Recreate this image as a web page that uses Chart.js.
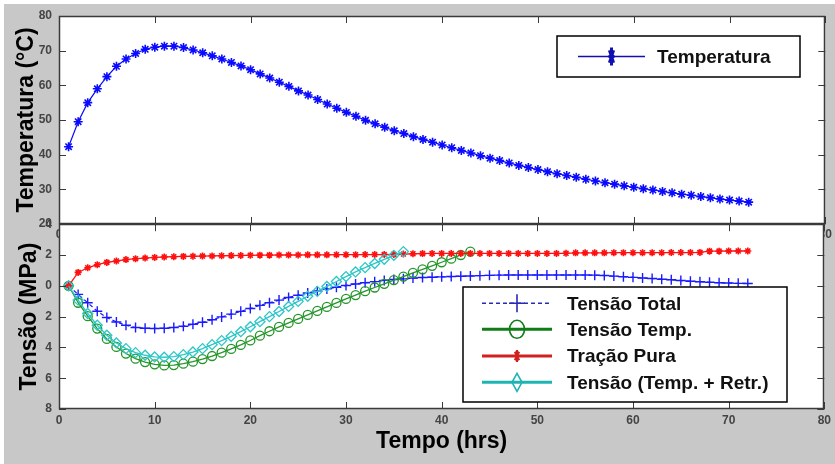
<!DOCTYPE html>
<html>
<head>
<meta charset="utf-8">
<script src="https://cdn.jsdelivr.net/npm/chart.js@4.4.1/dist/chart.umd.min.js"></script>
<style>
body { margin: 0; background: #fff; width: 835px; height: 464px; overflow: hidden; position: relative; }
#fig { position: absolute; left: 4px; top: 4px; width: 831px; height: 460px; background: #c8c8c8; }
canvas { position: absolute; left: 0; }
#cTemp { top: 0; }
#cTens { top: 210px; }
</style>
</head>
<body>
<div id="fig"></div>
<canvas id="cTemp" width="835" height="250"></canvas>
<canvas id="cTens" width="835" height="254"></canvas>
<script>
// hours since casting
const hours = [1,2,3,4,5,6,7,8,9,10,11,12,13,14,15,16,17,18,19,20,21,22,23,24,25,26,27,28,29,30,
	31,32,33,34,35,36,37,38,39,40,41,42,43,44,45,46,47,48,49,50,51,52,53,54,55,56,57,58,59,60,
	61,62,63,64,65,66,67,68,69,70,71,72];

// temperature (C)
const temperatura = [42.3,49.5,55.0,59.0,62.5,65.5,67.6,69.2,70.4,71.0,
	71.3,71.3,70.9,70.2,69.4,68.5,67.6,66.6,65.6,64.5,
	63.3,62.1,60.9,59.7,58.4,57.2,55.9,54.6,53.4,52.2,
	51.1,49.9,48.9,47.9,46.9,46.1,45.2,44.4,43.6,42.8,
	42.0,41.2,40.5,39.7,39.0,38.3,37.6,36.9,36.3,35.7,
	35.1,34.5,34.0,33.5,32.9,32.4,31.9,31.5,31.0,30.6,
	30.2,29.8,29.4,29.0,28.6,28.3,27.9,27.6,27.2,26.9,26.6,26.3];

// stresses (MPa)
const tensaoTotal = [0,-0.56,-1.1,-1.65,-2.06,-2.35,-2.56,-2.71,-2.76,-2.77,
	-2.76,-2.71,-2.63,-2.5,-2.37,-2.2,-2.02,-1.84,-1.66,-1.47,
	-1.27,-1.1,-0.93,-0.76,-0.61,-0.46,-0.33,-0.2,-0.09,0.02,
	0.12,0.2,0.27,0.35,0.41,0.45,0.5,0.54,0.56,0.58,
	0.6,0.62,0.64,0.66,0.68,0.69,0.7,0.7,0.7,0.7,
	0.7,0.7,0.7,0.7,0.7,0.69,0.67,0.63,0.59,0.55,
	0.51,0.47,0.43,0.39,0.34,0.3,0.26,0.23,0.2,0.18,0.16,0.15];

const tensaoTemp = [0,-1.1,-1.97,-2.78,-3.45,-3.97,-4.4,-4.73,-4.95,-5.1,
	-5.17,-5.15,-5.06,-4.93,-4.76,-4.56,-4.34,-4.1,-3.84,-3.55,
	-3.24,-2.95,-2.67,-2.41,-2.15,-1.89,-1.63,-1.37,-1.11,-0.85,
	-0.6,-0.35,-0.11,0.13,0.37,0.6,0.84,1.07,1.3,1.53,
	1.76,2.0,2.22];

const tracaoPura = [0,0.87,1.17,1.37,1.52,1.61,1.7,1.76,1.8,1.84,
	1.87,1.89,1.91,1.92,1.93,1.94,1.95,1.96,1.97,1.98,
	1.99,1.99,2.0,2.0,2.0,2.01,2.01,2.01,2.02,2.02,
	2.02,2.03,2.03,2.03,2.04,2.06,2.08,2.09,2.1,2.1,
	2.1,2.1,2.1,2.1,2.1,2.1,2.1,2.1,2.1,2.1,
	2.1,2.1,2.11,2.14,2.14,2.14,2.14,2.15,2.15,2.15,
	2.15,2.15,2.15,2.16,2.16,2.16,2.17,2.25,2.25,2.26,2.26,2.26];

const tensaoRetr = [0,-0.93,-1.8,-2.56,-3.21,-3.71,-4.08,-4.34,-4.51,-4.62,
	-4.64,-4.6,-4.47,-4.3,-4.08,-3.82,-3.56,-3.28,-2.98,-2.66,
	-2.33,-2.0,-1.67,-1.34,-1.01,-0.68,-0.36,-0.04,0.28,0.6,
	0.9,1.18,1.45,1.72,1.98,2.22];

const FONT = '"Liberation Sans", Arial, sans-serif';
Chart.defaults.font.family = FONT;
Chart.defaults.color = '#444';

// white plotting box behind the curves
const whiteBox = {
	id: 'whiteBox',
	beforeDraw(chart) {
		const a = chart.chartArea;
		const ctx = chart.ctx;
		ctx.save();
		ctx.fillStyle = '#fff';
		ctx.fillRect(a.left, a.top, a.right - a.left, a.bottom - a.top);
		ctx.restore();
	}
};

// axes frame with inward ticks on all four sides
const boxTicks = {
	id: 'boxTicks',
	afterDatasetsDraw(chart) {
		const {ctx, chartArea: a, scales} = chart;
		const L = 7;
		ctx.save();
		ctx.strokeStyle = '#3a3a3a';
		ctx.lineWidth = 1;
		ctx.beginPath();
		scales.x.ticks.forEach(t => {
			const px = Math.round(scales.x.getPixelForValue(t.value)) + 0.5;
			ctx.moveTo(px, a.bottom); ctx.lineTo(px, a.bottom - L);
			ctx.moveTo(px, a.top); ctx.lineTo(px, a.top + L);
		});
		scales.y.ticks.forEach(t => {
			const py = Math.round(scales.y.getPixelForValue(t.value)) + 0.5;
			ctx.moveTo(a.left, py); ctx.lineTo(a.left + L, py);
			ctx.moveTo(a.right, py); ctx.lineTo(a.right - L, py);
		});
		ctx.stroke();
		ctx.lineWidth = 1.5;
		ctx.strokeRect(Math.round(a.left) + 0.5, Math.round(a.top) + 0.5,
			Math.round(a.right - a.left) - 1, Math.round(a.bottom - a.top) - 1);
		ctx.restore();
	}
};

function drawMark(ctx, style, cx, cy, rx, ry) {
	ctx.beginPath();
	if (style === 'circle') {
		ctx.ellipse(cx, cy, rx, ry, 0, 0, Math.PI * 2);
	} else if (style === 'rectRot') {
		ctx.moveTo(cx, cy - ry); ctx.lineTo(cx + rx, cy);
		ctx.lineTo(cx, cy + ry); ctx.lineTo(cx - rx, cy); ctx.closePath();
	} else if (style === 'cross') {
		ctx.moveTo(cx - rx, cy); ctx.lineTo(cx + rx, cy);
		ctx.moveTo(cx, cy - ry); ctx.lineTo(cx, cy + ry);
	} else {
		ctx.moveTo(cx - rx, cy); ctx.lineTo(cx + rx, cy);
		ctx.moveTo(cx, cy - ry); ctx.lineTo(cx, cy + ry);
		ctx.moveTo(cx - rx * 0.7, cy - ry * 0.7); ctx.lineTo(cx + rx * 0.7, cy + ry * 0.7);
		ctx.moveTo(cx - rx * 0.7, cy + ry * 0.7); ctx.lineTo(cx + rx * 0.7, cy - ry * 0.7);
	}
	ctx.stroke();
}

// boxed legend with line + marker samples
const boxLegend = {
	id: 'boxLegend',
	afterDraw(chart, args, o) {
		const ctx = chart.ctx;
		ctx.save();
		ctx.fillStyle = '#fff';
		ctx.fillRect(o.left, o.top, o.right - o.left, o.bottom - o.top);
		ctx.strokeStyle = '#000';
		ctx.lineWidth = 1.5;
		ctx.strokeRect(o.left, o.top, o.right - o.left, o.bottom - o.top);
		chart.data.datasets.forEach((ds, i) => {
			const y = o.rows[i];
			ctx.strokeStyle = ds.legendColor || ds.borderColor;
			ctx.lineWidth = ds.legendLine;
			ctx.setLineDash(ds.borderDash || []);
			ctx.beginPath();
			ctx.moveTo(o.x0, y); ctx.lineTo(o.x1, y);
			ctx.stroke();
			ctx.setLineDash([]);
			ctx.lineWidth = ds.legendMarkWidth || 1.5;
			drawMark(ctx, ds.pointStyle, (o.x0 + o.x1) / 2, y, ds.legendMark[0], ds.legendMark[1]);
			ctx.fillStyle = '#111';
			ctx.font = 'bold 19px ' + FONT;
			ctx.textBaseline = 'middle';
			ctx.textAlign = 'left';
			ctx.fillText(ds.label, o.textX, y + 1);
		});
		ctx.restore();
	}
};

const tickFont = {size: 12, weight: 'bold'};
const titleFont = {size: 23, weight: 'bold'};

new Chart(document.getElementById('cTemp'), {
	type: 'line',
	data: {
		labels: hours,
		datasets: [{
			label: 'Temperatura',
			data: temperatura,
			borderColor: '#0a0aff',
			backgroundColor: '#0a0aff',
			borderWidth: 1.2,
			pointStyle: 'star',
			pointRadius: 4.5,
			pointBorderWidth: 1.6,
			tension: 0,
			legendColor: '#1010b0',
			legendLine: 1.6,
			legendMark: [3, 9],
			legendMarkWidth: 3
		}]
	},
	options: {
		responsive: false,
		animation: false,
		devicePixelRatio: 1,
		layout: {padding: {left: 0, right: 8, top: 16, bottom: 0}},
		plugins: {
			legend: {display: false},
			tooltip: {enabled: false},
			boxLegend: {left: 557, top: 36, right: 800, bottom: 77, rows: [56.5], x0: 578, x1: 645, textX: 657}
		},
		scales: {
			x: {
				type: 'linear', min: 0, max: 80,
				grid: {display: false, drawTicks: false},
				border: {display: false},
				ticks: {stepSize: 10, padding: 3, font: tickFont, color: '#444'},
				afterFit(s) { s.height = 26; }
			},
			y: {
				min: 20, max: 80,
				grid: {display: false, drawTicks: false},
				border: {display: false},
				ticks: {stepSize: 10, padding: 7, font: tickFont, color: '#444'},
				title: {display: true, text: 'Temperatura (°C)', font: titleFont, color: '#000', padding: {top: 13, bottom: 0}},
				afterFit(s) { s.width = 59; }
			}
		}
	},
	plugins: [whiteBox, boxTicks, boxLegend]
});

new Chart(document.getElementById('cTens'), {
	type: 'line',
	data: {
		labels: hours,
		datasets: [{
			label: 'Tensão Total',
			data: tensaoTotal,
			borderColor: '#1a1aff',
			backgroundColor: '#1a1aff',
			borderWidth: 1.2,
			borderDash: [4, 3],
			pointStyle: 'cross',
			pointRadius: 5,
			pointBorderWidth: 1.4,
			order: 3,
			legendColor: '#2a2ab8',
			legendLine: 1.5,
			legendMark: [8, 9],
			legendMarkWidth: 1.6
		}, {
			label: 'Tensão Temp.',
			data: tensaoTemp,
			borderColor: '#24952a',
			backgroundColor: 'rgba(0,0,0,0)',
			borderWidth: 1.3,
			pointStyle: 'circle',
			pointRadius: 4.5,
			pointBorderWidth: 1.3,
			order: 2,
			legendColor: '#0f7d16',
			legendLine: 3,
			legendMark: [7.5, 9],
			legendMarkWidth: 1.6
		}, {
			label: 'Tração Pura',
			data: tracaoPura,
			borderColor: '#ff1010',
			backgroundColor: '#ff1010',
			borderWidth: 1.3,
			pointStyle: 'star',
			pointRadius: 3.5,
			pointBorderWidth: 1.6,
			order: 1,
			legendColor: '#d02020',
			legendLine: 3,
			legendMark: [3, 6],
			legendMarkWidth: 2.2
		}, {
			label: 'Tensão (Temp. + Retr.)',
			data: tensaoRetr,
			borderColor: '#2ec6c6',
			backgroundColor: 'rgba(0,0,0,0)',
			borderWidth: 1.3,
			pointStyle: 'rectRot',
			pointRadius: 5,
			pointBorderWidth: 1.3,
			order: 0,
			legendColor: '#1fb4b4',
			legendLine: 3,
			legendMark: [5, 9],
			legendMarkWidth: 1.6
		}]
	},
	options: {
		responsive: false,
		animation: false,
		devicePixelRatio: 1,
		layout: {padding: {left: 0, right: 8, top: 14, bottom: 0}},
		plugins: {
			legend: {display: false},
			tooltip: {enabled: false},
			boxLegend: {left: 463, top: 77, right: 787, bottom: 192, rows: [93.3, 119.3, 146, 172.3], x0: 482, x1: 552, textX: 567}
		},
		scales: {
			x: {
				type: 'linear', min: 0, max: 80,
				grid: {display: false, drawTicks: false},
				border: {display: false},
				ticks: {stepSize: 10, padding: 4, font: tickFont, color: '#444'},
				title: {display: true, text: 'Tempo (hrs)', font: titleFont, color: '#000', padding: {top: 0, bottom: 9}},
				afterFit(s) { s.height = 55; }
			},
			y: {
				min: -8, max: 4,
				grid: {display: false, drawTicks: false},
				border: {display: false},
				ticks: {stepSize: 2, padding: 7, font: tickFont, color: '#444', callback: v => String(Math.abs(v))},
				title: {display: true, text: 'Tensão (MPa)', font: titleFont, color: '#000', padding: {top: 16, bottom: 0}},
				afterFit(s) { s.width = 59; }
			}
		}
	},
	plugins: [whiteBox, boxTicks, boxLegend]
});
</script>
</body>
</html>
